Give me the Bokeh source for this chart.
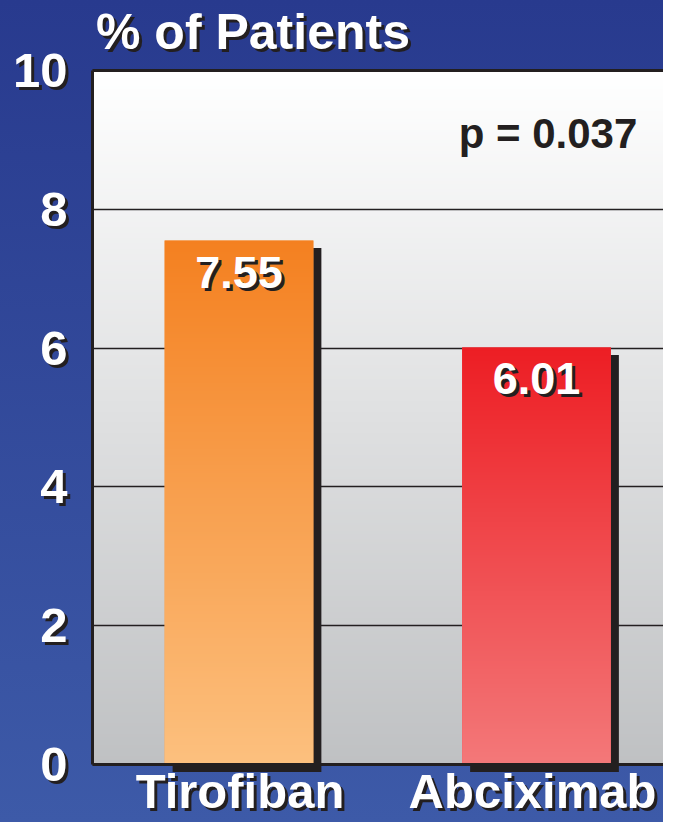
import numpy as np
from bokeh.plotting import figure
from bokeh.models import Range1d, FixedTicker, Grid, Label, LabelSet, ColumnDataSource
from bokeh.core.properties import value
from bokeh.embed import file_html
from bokeh.resources import INLINE

# ---------------- data ----------------
categories = ["Tirofiban", "Abciximab"]
percentages = [7.55, 6.01]
value_labels = ["7.55", "6.01"]
y_ticks = [0, 2, 4, 6, 8, 10]
y_tick_labels = ["0", "2", "4", "6", "8", "10"]
y_title = "% of Patients"
p_value_text = "p = 0.037"

# ---------------- style ----------------
FONT = "Liberation Sans"
DARK = "#231f20"
WHITE = "#ffffff"
bar_top_rgb = [(244, 128, 32), (237, 30, 36)]
bar_bottom_rgb = [(252, 192, 126), (243, 120, 121)]
bar_mid_colors = ["#f8a050", "#f04a50"]
bg_top_rgb = (255, 255, 255)
bg_bottom_rgb = (191, 193, 195)
category_x_shift = [1, -4]   # px nudges so the labels stay inside the canvas
SH = 3                       # text shadow offset, px

W, H = 663, 822
PX_PER_X = 297.5             # px per category step
X0_PX, Y0_PX, TOP_PX, LEFT_PX = 238.5, 764.0, 70.0, 92.0
PX_PER_Y = (Y0_PX - TOP_PX) / 10.0
X_START = -X0_PX / PX_PER_X
X_END = (W - X0_PX) / PX_PER_X
PLOT_LEFT = (LEFT_PX - X0_PX) / PX_PER_X
Y_START = -(H - Y0_PX) / PX_PER_Y
Y_END = Y0_PX / PX_PER_Y
BAR_W = 0.5


def vgradient(bottom_rgb, top_rgb, n=256):
    t = np.linspace(0.0, 1.0, n)[:, None]
    img = np.empty((n, 1), dtype=np.uint32)
    view = img.view(dtype=np.uint8).reshape((n, 1, 4))
    for k in range(3):
        view[:, :, k] = np.round(bottom_rgb[k] + (top_rgb[k] - bottom_rgb[k]) * t).astype(np.uint8)
    view[:, :, 3] = 255
    return img


xs = list(range(len(categories)))

p = figure(width=W, height=H, output_backend="svg", toolbar_location=None,
           x_range=Range1d(X_START, X_END), y_range=Range1d(Y_START, Y_END),
           x_axis_location=None, y_axis_location=None, min_border=0)
p.border_fill_color = None
p.background_fill_color = None
p.outline_line_color = None
p.grid.visible = False
p.styles = {"background": "linear-gradient(to bottom, #283a8e 0%, #3d5aa8 100%)"}

# plot area gradient (white -> grey)
p.image_rgba(image=[vgradient(bg_bottom_rgb, bg_top_rgb)], x=PLOT_LEFT, y=0,
             dw=X_END - PLOT_LEFT, dh=10, level="image")

# horizontal grid lines
p.add_layout(Grid(dimension=1, ticker=FixedTicker(ticks=y_ticks),
                  cross_bounds=(PLOT_LEFT, X_END), grid_line_color=DARK,
                  grid_line_width=1.5))

src = ColumnDataSource(dict(
    x=xs, top=percentages, color=bar_mid_colors, label=value_labels, cat=categories,
    sh_left=[x - BAR_W / 2 + 8 / PX_PER_X for x in xs],
    sh_right=[x + BAR_W / 2 + 8 / PX_PER_X for x in xs],
    sh_top=[v - 7.5 / PX_PER_Y for v in percentages],
    sh_bottom=[-7.5 / PX_PER_Y for _ in xs],
))

# bar drop shadows
p.quad(left="sh_left", right="sh_right", top="sh_top", bottom="sh_bottom",
       fill_color=DARK, line_color=None, source=src)
# bars (solid base + vertical gradient)
p.vbar(x="x", top="top", bottom=0, width=BAR_W, fill_color="color", line_color=None, source=src)
p.image_rgba(image=[vgradient(b, t) for b, t in zip(bar_bottom_rgb, bar_top_rgb)],
             x=[x - BAR_W / 2 for x in xs], y=[0] * len(xs),
             dw=[BAR_W] * len(xs), dh=percentages)

# plot frame borders (left, bottom, top)
p.segment(x0=[PLOT_LEFT, PLOT_LEFT, PLOT_LEFT], y0=[0, 0, 10],
          x1=[PLOT_LEFT, X_END, X_END], y1=[10, 0, 10], line_color=DARK, line_width=3)


def shadowed(**kw):
    dark = LabelSet(text_color=DARK, **{**kw, "x_offset": kw.get("x_offset", 0) + SH,
                                        "y_offset": kw.get("y_offset", 0) - SH})
    white = LabelSet(text_color=WHITE, **kw)
    p.add_layout(dark)
    p.add_layout(white)


common = dict(text_font=value(FONT), text_font_style="bold")

# value labels in bars
shadowed(x="x", y="top", text="label", source=src, y_offset=-16, text_align="center",
         text_baseline="top", text_font_size="45px", **common)

# y tick labels
tick_src = ColumnDataSource(dict(y=y_ticks, label=y_tick_labels,
                                 x=[PLOT_LEFT] * len(y_ticks)))
shadowed(x="x", y="y", text="label", source=tick_src, x_offset=-25, text_align="right",
         text_baseline="middle", text_font_size="49px", **common)

# category labels
for i, (x, c) in enumerate(zip(xs, categories)):
    cs = ColumnDataSource(dict(x=[x], y=[0], t=[c]))
    shadowed(x="x", y="y", text="t", source=cs, x_offset=category_x_shift[i], y_offset=0.5,
             text_align="center", text_baseline="top", text_font_size="49px", **common)

# y title
title_src = ColumnDataSource(dict(x=[PLOT_LEFT], y=[10], t=[y_title]))
shadowed(x="x", y="y", text="t", source=title_src, x_offset=3.5, y_offset=67,
         text_align="left", text_baseline="top", text_font_size="50px", **common)

# p-value
p.add_layout(Label(x=1, y=10, x_offset=11.5, y_offset=-39, text=p_value_text,
                   text_align="center", text_baseline="top", text_font=FONT,
                   text_font_style="bold", text_font_size="42px", text_color=DARK))

open("out.html", "w").write(file_html(p, INLINE))
